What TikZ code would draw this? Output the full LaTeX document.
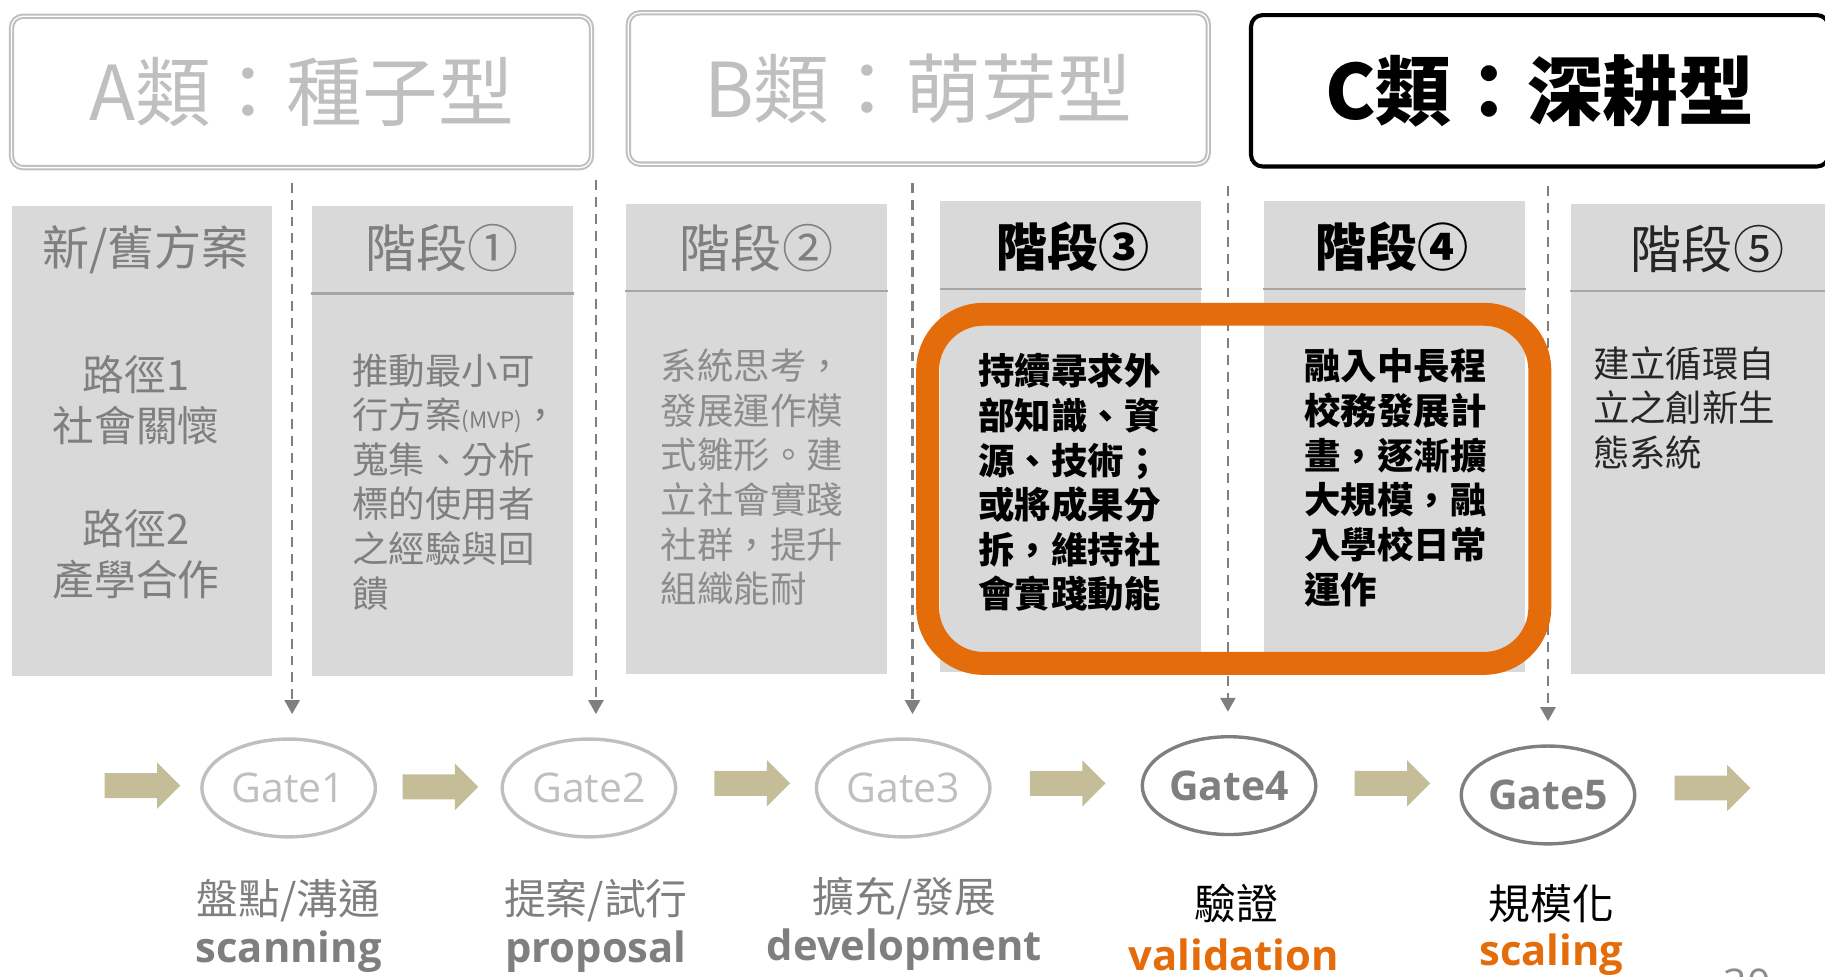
\documentclass[tikz,border=0pt]{standalone}
\usepackage{fontspec}
\setmainfont{Noto Sans CJK TC}
\newfontfamily\latinfont{Open Sans}
\usepackage{tikz}
\usetikzlibrary{arrows.meta}
\usetikzlibrary{shapes.geometric,shapes.arrows}
\definecolor{lightgrey}{HTML}{BFBFBF}
\definecolor{boxgrey}{HTML}{D9D9D9}
\definecolor{textgrey}{HTML}{7F7F7F}
\definecolor{palegrey}{HTML}{8C8C8C}
\definecolor{rulegrey}{HTML}{A6A6A6}
\definecolor{darktext}{HTML}{262626}
\definecolor{hiorange}{HTML}{E46C0A}
\definecolor{khaki}{HTML}{C4BD97}

\begin{document}
\begin{tikzpicture}[x=0.01cm,y=-0.01cm]
  \tikzset{typebox/.style = {shape=rectangle,draw=lightgrey,line width=0.5pt,double=white,double distance=0.3pt,rounded corners=1mm,minimum width=4.98cm,minimum height=1.3cm,text=lightgrey,font=\fontsize{18.5}{20}\selectfont}}
    \tikzset{phase/.style = {shape=rectangle,fill=boxgrey,minimum width=2.24cm,minimum height=4.04cm,inner sep=0pt}}
    \tikzset{head/.style = {inner sep=0pt,font=\fontsize{12.5}{14}\selectfont}}
    \tikzset{body/.style = {anchor=north west,inner sep=0pt,align=left,font=\fontsize{8.9}{10.9}\selectfont}}
  \tikzset{gate/.style = {shape=ellipse,draw=lightgrey,line width=0.83pt,minimum width=1.49cm,minimum height=0.84cm,inner sep=0pt,text=lightgrey,font=\latinfont\fontsize{10}{12}\selectfont}}
  \tikzset{pass/.style = {shape=single arrow,fill=khaki,minimum height=0.65cm,inner xsep=0pt,inner ysep=1mm,single arrow head extend=0.925mm}}
  \tikzset{stagecn/.style = {inner sep=0pt,text=textgrey,font=\fontsize{10.2}{12}\selectfont}}
  \tikzset{stageen/.style = {inner sep=0pt,text=textgrey,font=\latinfont\bfseries\fontsize{10.2}{12}\selectfont}}
  \tikzset{gatelink/.style = {draw=textgrey,line width=0.55pt,dash pattern=on 0.85mm off 0.6mm,-{Triangle[width=1.3mm,length=1.2mm]},shorten >=2mm}}
  \tikzset{rule/.style = {draw=rulegrey,line width=0.6pt}}

  \useasboundingbox (0,0) rectangle (1568,839);

	\coordinate (d1) at (251,157);
	\coordinate (d2) at (512,155);
	\coordinate (d3) at (784,157);
	\coordinate (d4) at (1055,160);
	\coordinate (d5) at (1330,160);

	\node[gate] (g1) at (248,677) {Gate1};
	\node[gate] (g2) at (506,677) {Gate2};
	\node[gate] (g3) at (776,677) {Gate3};
	\node[gate,draw=textgrey,text=textgrey,font=\latinfont\bfseries\fontsize{10}{12}\selectfont] (g4) at (1056,675) {Gate4};
	\node[gate,draw=textgrey,text=textgrey,font=\latinfont\bfseries\fontsize{10}{12}\selectfont] (g5) at (1330,683) {Gate5};

    \foreach \from/\to in {d1/g1,d2/g2,d3/g3,d4/g4,d5/g5}
    \draw[gatelink] (\from) -- (\from |- \to.north);

	\node[typebox] (typeA) at (259,79) {A類：種子型};
	\node[typebox] (typeB) at (789,76) {B類：萌芽型};
	\node[typebox,draw=black,line width=1pt,double=none,text=black,font=\bfseries\fontsize{18.5}{20}\selectfont,minimum width=4.96cm] (typeC) at (1323,78) {C類：深耕型};

	\node[phase] (c0) at (122,379) {};
	\node[phase] (c1) at (380,379) {};
	\node[phase] (c2) at (650,377) {};
	\node[phase] (c3) at (920,375) {};
	\node[phase] (c4) at (1198,375) {};
	\node[phase] (c5) at (1462,377) {};

    \foreach \c in {c1,c2,c3,c4,c5}
    \draw[rule] ([yshift=-7.6mm]\c.north west) -- ([yshift=-7.6mm]\c.north east);

	\draw[hiorange,line width=5.6pt,rounded corners=4.8mm] (797,270) rectangle (1323,570);

	\node[head,text=textgrey,font=\fontsize{11.5}{14}\selectfont] (h0) at (125,215) {新/舊方案};
	\node[head,text=textgrey] (h1) at (380,213) {階段①};
	\node[head,text=textgrey] (h2) at (650,213) {階段②};
	\node[head,font=\bfseries\fontsize{12.5}{14}\selectfont] (h3) at (922,212) {階段③};
	\node[head,font=\bfseries\fontsize{12.5}{14}\selectfont] (h4) at (1196,212) {階段④};
	\node[head,text=darktext] (h5) at (1467,214) {階段⑤};

	\node[stagecn,align=center,font=\fontsize{10.2}{12.5}\selectfont] (p1) at (117,344) {路徑1\\社會關懷};
	\node[stagecn,align=center,font=\fontsize{10.2}{12.5}\selectfont] (p2) at (117,476) {路徑2\\產學合作};

	\node[body,text=textgrey] (b1) at (302,303) {推動最小可\\行方案{\fontsize{5.5}{6}\selectfont(MVP)}，\\蒐集、分析\\標的使用者\\之經驗與回\\饋};
	\node[body,text=palegrey] (b2) at (567,299) {系統思考，\\發展運作模\\式雛形。建\\立社會實踐\\社群，提升\\組織能耐};
	\node[body,font=\bfseries\fontsize{8.9}{10.9}\selectfont] (b3) at (840,303) {持續尋求外\\部知識、資\\源、技術；\\或將成果分\\拆，維持社\\會實踐動能};
	\node[body,font=\bfseries\fontsize{8.9}{10.9}\selectfont] (b4) at (1120,299) {融入中長程\\校務發展計\\畫，逐漸擴\\大規模，融\\入學校日常\\運作};
	\node[body,text=darktext] (b5) at (1368,297) {建立循環自\\立之創新生\\態系統};

	\node[pass] (a0) at (117,675) {};
	\node[pass] (a1) at (373,676) {};
	\node[pass] (a2) at (641,673) {};
	\node[pass] (a3) at (912,673) {};
	\node[pass] (a4) at (1191,673) {};
	\node[pass] (a5) at (1466,677) {};

	\node[stagecn] (l1) at (248,774) {盤點/溝通};
	\node[stagecn] (l2) at (512,774) {提案/試行};
	\node[stagecn] (l3) at (777,772) {擴充/發展};
	\node[stagecn,text=black] (l4) at (1062,776) {驗證};
	\node[stagecn,text=black] (l5) at (1333,776) {規模化};

	\node[stageen] (e1) at (248,818) {scanning};
	\node[stageen] (e2) at (512,818) {proposal};
	\node[stageen] (e3) at (777,816) {development};
	\node[stageen,text=hiorange] (e4) at (1060,820) {validation};
	\node[stageen,text=hiorange] (e5) at (1333,820) {scaling};

	\node[anchor=north,inner sep=0pt,text=palegrey,font=\latinfont\fontsize{10}{12}\selectfont] (page) at (1501,832) {30};

\end{tikzpicture}
\end{document}
